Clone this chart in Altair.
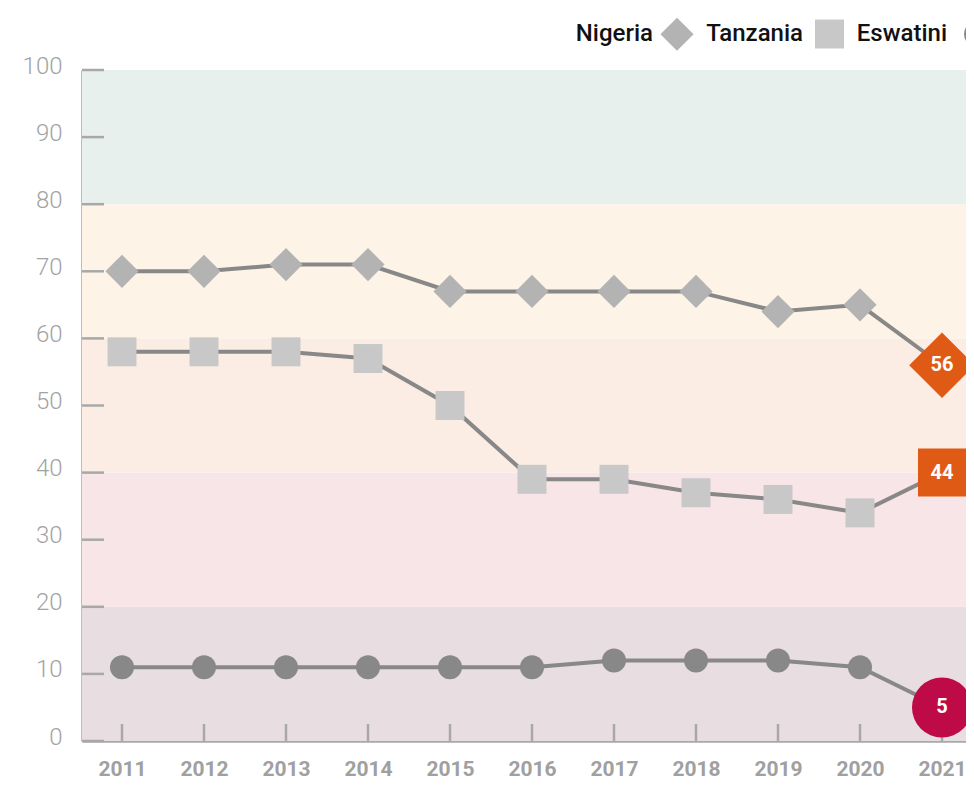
import altair as alt
import pandas as pd

years = list(range(2011, 2022))
series = ["Nigeria", "Tanzania", "Eswatini"]
nigeria = [70, 70, 71, 71, 67, 67, 67, 67, 64, 65, 56]
tanzania = [58, 58, 58, 57, 50, 39, 39, 37, 36, 34, 40]
eswatini = [11, 11, 11, 11, 11, 11, 12, 12, 12, 11, 5]
last_labels = ["56", "44", "5"]

band_lo = [0, 20, 40, 60, 80]
band_hi = [20, 40, 60, 80, 100]
band_colors = ["#e8dde0", "#f7e5e7", "#fbede4", "#fdf4e7", "#e7f0ec"]
y_ticks = list(range(0, 101, 10))

marker_shapes = ["diamond", "square", "circle"]
marker_colors = ["#b3b3b3", "#c8c8c8", "#888888"]
marker_sizes = [1100, 576, 900]
hl_colors = ["#df5a14", "#df5a14", "#be0a46"]
hl_sizes = [4300, 2304, 3600]

W, H = 884, 671
AX = "#a8a8a8"

vals = {"Nigeria": nigeria, "Tanzania": tanzania, "Eswatini": eswatini}
rows = []
for s in series:
    for y, v in zip(years, vals[s]):
        rows.append({"series": s, "year": y, "value": v})
df = pd.DataFrame(rows)
df_body = df[df.year < years[-1]]
last = pd.DataFrame({"series": series, "year": [years[-1]] * 3,
                     "value": [vals[s][-1] for s in series], "label": last_labels})
bands = pd.DataFrame({"lo": band_lo, "hi": band_hi, "color": band_colors})
yt = pd.DataFrame({"v": y_ticks})
xt = pd.DataFrame({"year": years})

xscale = alt.Scale(domain=[2010.5122, 2021.2927], nice=False, zero=False)
yscale = alt.Scale(domain=[0, 100], nice=False)

xaxis = alt.Axis(values=years, format="d", ticks=False, grid=False, domain=True,
                 domainColor=AX, domainWidth=2.5, labelFont="Roboto", labelFontSize=21,
                 labelFontWeight="bold", labelColor="#a0a0a0", labelPadding=17, title=None)
yaxis = alt.Axis(values=y_ticks, ticks=False, grid=False, domain=True, domainColor=AX,
                 domainWidth=2.5, labelFont="Roboto", labelFontSize=24, labelFontWeight=300,
                 labelColor="#a3a3a3", labelPadding=20, labelOffset=-4, title=None)

band_layer = alt.Chart(bands).mark_rect().encode(
    x=alt.value(0), x2=alt.value(W),
    y=alt.Y("lo:Q", scale=yscale, axis=yaxis), y2="hi:Q",
    color=alt.Color("color:N", scale=None))

ytick_layer = alt.Chart(yt).mark_rule(color=AX, strokeWidth=2.5).encode(
    y=alt.Y("v:Q", scale=yscale), x=alt.value(0), x2=alt.value(22))

xtick_layer = alt.Chart(xt).mark_rule(color=AX, strokeWidth=2.5).encode(
    x=alt.X("year:Q", scale=xscale, axis=xaxis), y=alt.value(H), y2=alt.value(H - 17))

line_layer = alt.Chart(df).mark_line(color="#888888", strokeWidth=4).encode(
    x=alt.X("year:Q", scale=xscale), y=alt.Y("value:Q", scale=yscale), detail="series:N")

legend = alt.Legend(title=None, orient="none", legendX=578, legendY=-53, direction="horizontal",
                    labelFont="Roboto", labelFontSize=24, labelFontWeight=500, labelColor="#111111",
                    symbolStrokeWidth=0, labelAlign="right",
                    labelOffset={"expr": "-41"}, columnPadding=12)

point_layer = alt.Chart(df_body).mark_point(filled=True, opacity=1).encode(
    x=alt.X("year:Q", scale=xscale), y=alt.Y("value:Q", scale=yscale),
    shape=alt.Shape("series:N", scale=alt.Scale(domain=series, range=marker_shapes), legend=legend),
    color=alt.Color("series:N", scale=alt.Scale(domain=series, range=marker_colors), legend=legend),
    size=alt.Size("series:N", scale=alt.Scale(domain=series, range=marker_sizes), legend=legend))

hl_layers = []
for i, s in enumerate(series):
    hl_layers.append(alt.Chart(last[last.series == s]).mark_point(
        filled=True, opacity=1, shape=marker_shapes[i], color=hl_colors[i], size=hl_sizes[i]).encode(
        x=alt.X("year:Q", scale=xscale), y=alt.Y("value:Q", scale=yscale)))

text_layer = alt.Chart(last).mark_text(color="white", font="Roboto", fontWeight="bold",
                                       fontSize=20, baseline="middle", align="center").encode(
    x=alt.X("year:Q", scale=xscale), y=alt.Y("value:Q", scale=yscale), text="label:N")

chart = alt.layer(band_layer, ytick_layer, xtick_layer, line_layer, point_layer,
                  *hl_layers, text_layer).properties(
    width=W, height=H,
    padding={"left": 74, "top": 62, "right": 0, "bottom": 39},
    autosize=alt.AutoSizeParams(type="none"),
).configure_view(stroke=None).configure(background="white")

chart.save("out.html", embed_options={"renderer": "svg", "actions": False})
